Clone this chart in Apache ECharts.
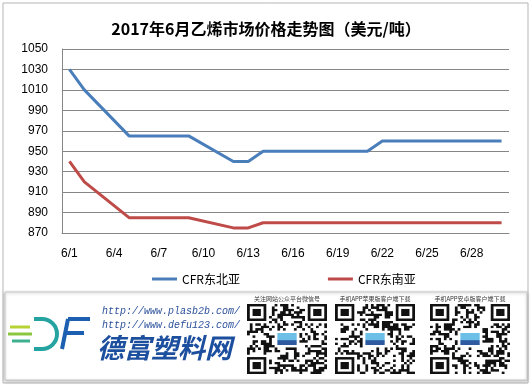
<!DOCTYPE html>
<html>
<head>
<meta charset="utf-8">
<script src="https://cdn.jsdelivr.net/npm/echarts@6/dist/echarts.min.js"></script>
<style>
  html, body { margin: 0; padding: 0; background: #fff; }
  #chart { width: 532px; height: 385px; }
</style>
</head>
<body>
<div id="chart"></div>
<script>
// June 2017, one category per calendar day (weekends have no quote)
const days = ['6/1', '6/2', '6/3', '6/4', '6/5', '6/6', '6/7', '6/8', '6/9', '6/10',
  '6/11', '6/12', '6/13', '6/14', '6/15', '6/16', '6/17', '6/18', '6/19', '6/20',
  '6/21', '6/22', '6/23', '6/24', '6/25', '6/26', '6/27', '6/28', '6/29', '6/30']
const seriesNames = ['CFR东北亚', 'CFR东南亚']
const northeastAsia = [1030, 1010, null, null, 965, 965, 965, 965, 965, null,
  null, 940, 940, 950, 950, 950, null, null, 950, 950,
  950, 960, 960, null, null, 960, 960, 960, 960, 960]
const southeastAsia = [940, 920, null, null, 885, 885, 885, 885, 885, null,
  null, 875, 875, 880, 880, 880, null, null, 880, 880,
  880, 880, 880, null, null, 880, 880, 880, 880, 880]
const yMin = 870
const yMax = 1050
const yStep = 20
const qrCaptions = ['关注网站公众平台微信号', '手机APP苹果版客户端下载', '手机APP安卓版客户端下载']
const urls = ['http://www.plasb2b.com/', 'http://www.defu123.com/']

// decorative QR-like block for the banner (not data)
function qrImage (seed) {
  const n = 29
  const s = 3
  const c = document.createElement('canvas')
  c.width = n * s
  c.height = n * s
  const ctx = c.getContext('2d')
  ctx.fillStyle = '#fff'
  ctx.fillRect(0, 0, c.width, c.height)
  ctx.fillStyle = '#111'
  for (let i = 0; i < n; i++) {
    for (let j = 0; j < n; j++) {
      const h = ((i * 73856093) ^ (j * 19349663) ^ (seed * 83492791)) >>> 0
      if (((h >>> 7) % 7) < 3) ctx.fillRect(j * s, i * s, s, s)
    }
  }
  const finder = (x, y) => {
    ctx.fillStyle = '#fff'
    ctx.fillRect((x - 1) * s, (y - 1) * s, 9 * s, 9 * s)
    ctx.fillStyle = '#111'
    ctx.fillRect(x * s, y * s, 7 * s, 7 * s)
    ctx.fillStyle = '#fff'
    ctx.fillRect((x + 1) * s, (y + 1) * s, 5 * s, 5 * s)
    ctx.fillStyle = '#111'
    ctx.fillRect((x + 2) * s, (y + 2) * s, 3 * s, 3 * s)
  }
  finder(0, 0)
  finder(n - 7, 0)
  finder(0, n - 7)
  // small logo patch in the middle
  ctx.fillStyle = '#fff'
  ctx.fillRect(10 * s, 11 * s, 9 * s, 7 * s)
  ctx.fillStyle = '#6cc0e8'
  ctx.fillRect(11 * s, 12 * s, 7 * s, 3 * s)
  ctx.fillStyle = '#2d5aa0'
  ctx.fillRect(11 * s, 15 * s, 7 * s, 2 * s)
  return c.toDataURL()
}

const qrX = [247, 335, 430]
const bannerGraphics = [
  { type: 'rect', shape: { x: 3, y: 3, width: 525, height: 380 }, style: { fill: 'none', stroke: '#b5b5b5', lineWidth: 1 }, silent: true },
  { type: 'rect', shape: { x: 5, y: 292, width: 522, height: 88 }, style: { fill: '#fff', stroke: '#c8c8c8', lineWidth: 1, shadowBlur: 3, shadowColor: 'rgba(0,0,0,0.25)', shadowOffsetY: 1 } },
  // logo stripes
  { type: 'line', shape: { x1: 10, y1: 327, x2: 30, y2: 327 }, style: { stroke: '#b5d334', lineWidth: 3 } },
  { type: 'line', shape: { x1: 8, y1: 334, x2: 32, y2: 334 }, style: { stroke: '#8cc63f', lineWidth: 3 } },
  { type: 'line', shape: { x1: 12, y1: 341, x2: 30, y2: 341 }, style: { stroke: '#3fb08f', lineWidth: 3 } },
  { type: 'arc', shape: { cx: 42, cy: 334, r: 15, startAngle: -Math.PI / 2, endAngle: Math.PI / 2 }, style: { stroke: '#25a3a0', lineWidth: 4, fill: 'none' } },
  { type: 'line', shape: { x1: 34, y1: 319, x2: 42, y2: 319 }, style: { stroke: '#25a3a0', lineWidth: 4 } },
  { type: 'line', shape: { x1: 34, y1: 349, x2: 42, y2: 349 }, style: { stroke: '#25a3a0', lineWidth: 4 } },
  { type: 'line', shape: { x1: 68, y1: 319, x2: 62, y2: 349 }, style: { stroke: '#1d5fb0', lineWidth: 4 } },
  { type: 'line', shape: { x1: 68, y1: 319, x2: 90, y2: 319 }, style: { stroke: '#1d5fb0', lineWidth: 4 } },
  { type: 'line', shape: { x1: 66, y1: 333, x2: 84, y2: 333 }, style: { stroke: '#1d5fb0', lineWidth: 4 } },
  { type: 'text', left: 102, top: 306, style: { text: urls[0], font: 'italic 10px "Liberation Mono"', fill: '#2a4f9a' } },
  { type: 'text', left: 102, top: 320, style: { text: urls[1], font: 'italic 10px "Liberation Mono"', fill: '#2a4f9a' } },
  { type: 'text', left: 97, top: 334, style: { text: '德富塑料网', font: 'italic bold 27px "Noto Sans CJK SC"', fill: '#1d4f9f' } }
]
qrX.forEach((x, k) => {
  bannerGraphics.push({ type: 'image', style: { image: qrImage(k + 2), x: x, y: 304, width: 80, height: 70 } })
  bannerGraphics.push({ type: 'text', style: { text: qrCaptions[k], x: x + 40, y: 296, font: '6px "Noto Sans CJK SC"', fill: '#333', textAlign: 'center' } })
})

const chart = echarts.init(document.getElementById('chart'), null, { renderer: 'canvas' })
chart.setOption({
  animation: false,
  backgroundColor: '#fff',
  title: {
    text: '2017年6月乙烯市场价格走势图（美元/吨）',
    left: 'center',
    top: 16,
    textStyle: { fontSize: 16, fontWeight: 'bold', color: '#000', fontFamily: '"Noto Sans CJK SC"' }
  },
  legend: {
    data: seriesNames,
    left: 147,
    top: 268,
    icon: 'rect',
    itemWidth: 25,
    itemHeight: 3,
    itemGap: 88,
    textStyle: { fontSize: 12, color: '#000', fontFamily: '"Noto Sans CJK SC"' }
  },
  grid: { left: 62, right: 23, top: 49, bottom: 152 },
  xAxis: {
    type: 'category',
    data: days,
    boundaryGap: true,
    axisLine: { lineStyle: { color: '#868686' } },
    axisTick: { show: false },
    axisLabel: { interval: 2, margin: 15, fontSize: 12, color: '#000', fontFamily: '"Liberation Sans"' }
  },
  yAxis: {
    type: 'value',
    min: yMin,
    max: yMax,
    interval: yStep,
    axisLine: { show: true, lineStyle: { color: '#868686' } },
    axisTick: { show: false },
    axisLabel: { margin: 14, fontSize: 12, color: '#000', fontFamily: '"Liberation Sans"', formatter: (v) => String(v) },
    splitLine: { lineStyle: { color: '#868686' } }
  },
  series: [
    {
      name: seriesNames[0],
      type: 'line',
      data: northeastAsia,
      connectNulls: true,
      symbol: 'none',
      lineStyle: { color: '#4a7ebb', width: 3 },
      itemStyle: { color: '#4a7ebb' }
    },
    {
      name: seriesNames[1],
      type: 'line',
      data: southeastAsia,
      connectNulls: true,
      symbol: 'none',
      lineStyle: { color: '#be4b48', width: 3 },
      itemStyle: { color: '#be4b48' }
    }
  ],
  graphic: bannerGraphics
})
</script>
</body>
</html>
